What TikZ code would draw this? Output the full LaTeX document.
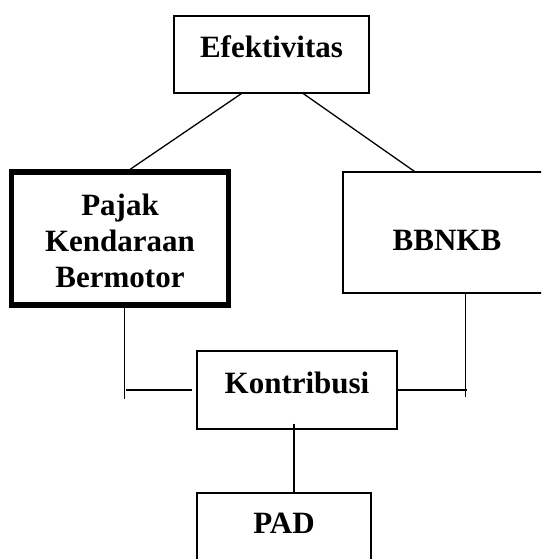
\documentclass[tikz,border=0pt]{standalone}
\usepackage{fontspec}
\setmainfont{Liberation Serif}
\begin{document}
\begin{tikzpicture}[x=1pt,y=-1pt,
  box/.style={draw, rectangle, line width=1.3pt, inner sep=0pt},
  thickbox/.style={draw, rectangle, line width=5.5pt, inner sep=0pt},
  lbl/.style={font=\fontsize{31}{36}\selectfont\bfseries, inner sep=0pt, anchor=base, align=center},
  conn/.style={line width=1.3pt}]
\useasboundingbox (0,0) rectangle (541,559);
\clip (0,0) rectangle (541,559);
% boxes
\node[box, minimum width=195pt, minimum height=77pt] (eff) at (271.5,54.5) {};
\node[thickbox, minimum width=217.4pt, minimum height=133pt] (pk) at (120,238.5) {};
\node[box, minimum width=257pt, minimum height=121pt] (bb) at (471.5,232.5) {};
\node[box, minimum width=200pt, minimum height=78pt] (kon) at (297,390) {};
\node[box, minimum width=174pt, minimum height=107pt] (pad) at (284,546.5) {};
% labels
\node[lbl] (efft) at (271.5,58) {Efektivitas};
\node[lbl] (pkt) at (120,287) {Pajak\\Kendaraan\\Bermotor};
\node[lbl] (bbt) at (447,250) {BBNKB};
\node[lbl] (kont) at (297,393) {Kontribusi};
\node[lbl] (padt) at (284,533) {PAD};
% connectors
\draw[conn] ([xshift=68pt]eff.south west) -- ([xshift=121.7pt]pk.north west);
\draw[conn] ([xshift=130pt]eff.south west) -- ([xshift=72pt]bb.north west);
\draw[conn] ([xshift=116pt]pk.south west) -- ++(0,91);
\draw[conn] ([xshift=-4pt]kon.west) -- ++(-66,0);
\draw[conn] ([xshift=123pt]bb.south west) -- ++(0,103);
\draw[conn] (kon.east) -- ++(69,0);
\draw[conn] ([xshift=-3pt,yshift=6pt]kon.south) -- ([xshift=10pt]pad.north);
\end{tikzpicture}
\end{document}
